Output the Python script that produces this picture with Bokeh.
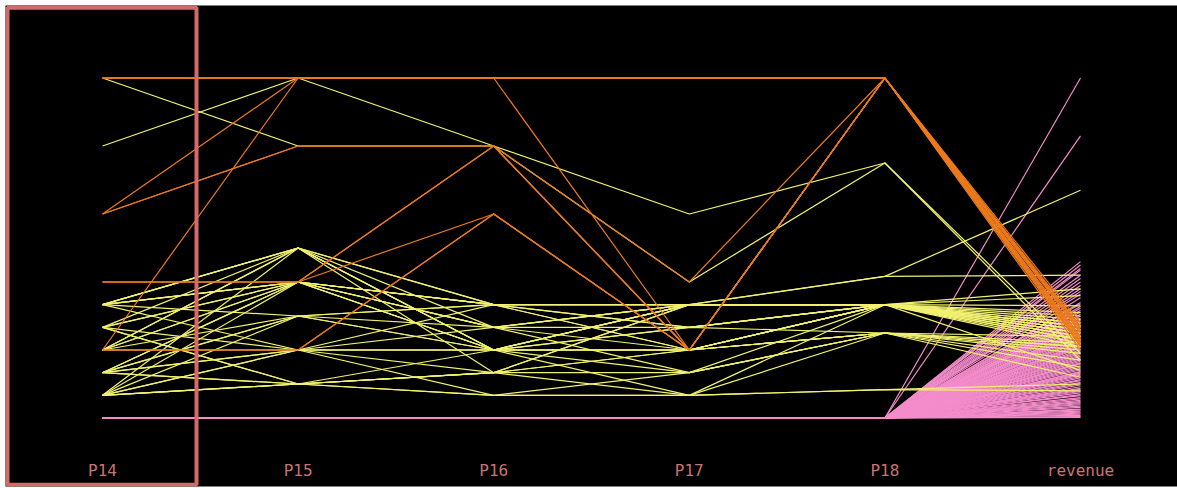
from bokeh.plotting import figure
from bokeh.models import ColumnDataSource, Range1d, BoxAnnotation
from bokeh.core.properties import value
from bokeh.embed import file_html
from bokeh.resources import INLINE

# ---- dimensions ----
dims = ["P14", "P15", "P16", "P17", "P18", "revenue"]
dim_max = [15, 10, 15, 15, 12, 100]

# ---- records with non-zero P values ----
p14 = [15, 15, 9, 9, 3, 6, 6, 3, 15, 15, 9, 3, 15, 6,
       15, 12, 5, 3,
       5, 5, 5, 5, 4, 4, 4, 3, 3, 3, 2, 2, 2, 2, 2, 1, 1, 1, 1, 1,
       1, 5, 4, 3, 2, 5, 1, 2, 3, 4, 2, 1, 5, 4]
p15 = [10, 10, 10, 8, 10, 4, 4, 2, 10, 10, 8, 2, 10, 4,
       8, 10, 4, 3,
       5, 4, 5, 3, 4, 1, 5, 5, 4, 5, 3, 2, 4, 3, 2, 2, 1, 3, 5, 1,
       2, 4, 4, 2, 4, 2, 1, 1, 4, 2, 1, 4, 5, 1]
p16 = [15, 15, 15, 12, 15, 12, 9, 9, 15, 15, 12, 9, 15, 12,
       12, 12, 5, 4,
       5, 4, 3, 5, 5, 2, 3, 4, 3, 2, 5, 3, 4, 3, 2, 3, 1, 3, 5, 2,
       5, 3, 5, 4, 5, 1, 2, 3, 3, 3, 1, 4, 3, 2]
p17 = [15, 15, 3, 3, 15, 6, 3, 3, 15, 15, 3, 3, 15, 3,
       9, 6, 5, 5,
       5, 5, 4, 3, 5, 1, 5, 3, 4, 5, 5, 3, 2, 1, 3, 5, 1, 3, 4, 2,
       5, 3, 3, 5, 4, 2, 5, 3, 5, 2, 1, 4, 5, 3]
p18 = [12, 12, 12, 12, 12, 12, 12, 12, 12, 12, 12, 12, 12, 12,
       9, 9, 5, 5,
       4, 4, 4, 3, 4, 3, 4, 4, 3, 4, 4, 4, 3, 4, 3, 4, 1, 4, 4, 3,
       4, 4, 3, 4, 4, 4, 4, 3, 4, 3, 1, 4, 4, 4]
revenue = [27, 24, 26, 22, 21, 25, 21.5, 26.5, 28, 23, 20, 22.5, 25.5, 23.5,
           19, 17, 42, 67,
           27, 25, 23, 15, 28, 21, 26, 24, 12, 29, 25, 22, 20, 27, 17, 24, 8, 26, 30, 21,
           23, 14, 24, 28, 27, 25, 21, 19, 38, 22, 10, 31, 33, 36]

# ---- records whose P14..P18 are all 0 (only revenue differs) ----
revenue_p_zero = [100, 83, 46, 45, 44, 43.5, 42, 41, 40, 39, 38, 37.2, 36.5,
                  35.4, 34, 33.6, 32.8, 32.3, 31.2, 30.5, 29.4,
                  28.8, 28.3, 27.1, 26.6, 25.8, 25.1, 24.3, 23.9, 23.0, 22.4,
                  21.6, 21.2, 20.1, 19.7, 19.0, 18.2, 17.8, 17.1, 16.3, 15.9,
                  15.0, 14.6, 13.7, 13.2, 12.6, 11.8, 11.3, 10.5, 10.1, 9.2,
                  8.7, 8.1, 7.4, 6.9, 6.0, 5.6, 4.8, 4.2, 3.9, 3.1,
                  2.6, 2.0, 1.7, 1.1, 0.8, 0.4, 30.0, 27.6, 24.7, 22.8,
                  20.6, 18.6, 16.7, 14.2, 12.2, 9.7, 7.8, 5.2, 2.4, 0.2,
                  29.0, 26.0, 23.4, 21.9, 19.4, 17.5, 15.4, 13.5, 11.0, 8.4,
                  6.6, 4.5, 3.5, 1.4, 31.6, 28.0, 25.4, 20.9, 16.0, 12.9]

COLOR_TOP = "#EC7A1C"
COLOR_MID = "#F2F270"
COLOR_ZERO = "#F48CCB"

def norm(row):
    return [v / m for v, m in zip(row, dim_max)]

axis_idx = list(range(len(dims)))

groups = {"zero": ([], []), "mid": ([], []), "top": ([], [])}
for r in revenue_p_zero:
    groups["zero"][0].append(axis_idx)
    groups["zero"][1].append(norm([0, 0, 0, 0, 0, r]))
for i in range(len(p14)):
    row = [p14[i], p15[i], p16[i], p17[i], p18[i], revenue[i]]
    key = "top" if p18[i] == dim_max[4] else ("zero" if p18[i] == 0 else "mid")
    groups[key][0].append(axis_idx)
    groups[key][1].append(norm(row))

p = figure(width=1177, height=488, output_backend="svg", toolbar_location=None,
           x_range=Range1d(-0.4959, 5.4959), y_range=Range1d(-0.20144, 1.21327),
           min_border_left=5, min_border_top=5, min_border_right=0,
           min_border_bottom=2)
p.background_fill_color = "black"
p.border_fill_color = "white"
p.outline_line_color = None
p.axis.visible = False
p.xgrid.visible = False
p.ygrid.visible = False

for key, col in [("zero", COLOR_ZERO), ("mid", COLOR_MID), ("top", COLOR_TOP)]:
    xs, ys = groups[key]
    src = ColumnDataSource(dict(xs=xs, ys=ys))
    p.multi_line(xs="xs", ys="ys", source=src, line_color=col, line_width=1.2)

# selection brush around first axis
brush = BoxAnnotation(left=-0.4857, right=0.4806, top=1.207, bottom=-0.196,
                      fill_alpha=0, line_color="#D46A6A", line_alpha=1.0,
                      line_width=4)
p.add_layout(brush)

lab = ColumnDataSource(dict(x=axis_idx, y=[-0.1545] * len(dims), t=dims))
p.text(x="x", y="y", text="t", source=lab, text_align="center",
       text_baseline="middle", text_font=value("DejaVu Sans Mono"),
       text_font_size="16px", text_color="#C87474")

open("out.html", "w").write(file_html(p, INLINE))
